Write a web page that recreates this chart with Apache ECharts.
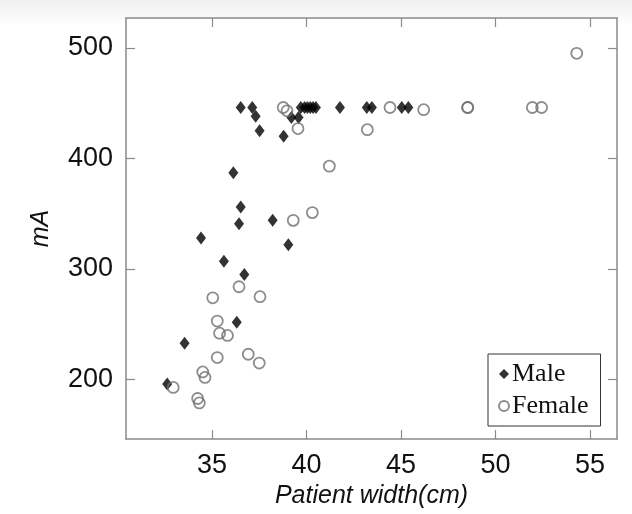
<!DOCTYPE html>
<html>
<head>
<meta charset="utf-8">
<script src="https://cdn.jsdelivr.net/npm/echarts@6/dist/echarts.min.js"></script>
<style>
  html, body { margin: 0; padding: 0; background: #fff; }
  #main { width: 632px; height: 514px; }
</style>
</head>
<body>
<div id="main"></div>
<script>
// values
var maleWidth = [32.63, 33.55, 34.42, 35.63, 36.31, 36.13, 36.52, 36.43, 36.71, 36.52, 37.13, 37.31, 37.52, 38.21, 38.79,
                 39.04, 39.2, 39.58, 39.7, 39.9, 40.05, 40.2, 40.35, 40.5, 41.77, 43.19, 43.46, 45.04, 45.39];
var maleMA = [196, 233, 328, 307, 252, 387, 356, 341, 295, 446, 446, 438, 425, 344, 420,
              322, 437, 437, 446, 446, 446, 446, 446, 446, 446, 446, 446, 446, 446];
var femaleWidth = [32.95, 34.24, 34.33, 34.51, 34.63, 35.04, 35.28, 35.28, 35.4, 35.82, 36.43, 36.92, 37.5, 37.54,
                   38.77, 38.97, 39.3, 39.55, 40.31, 41.21, 43.22, 44.42, 46.2, 48.53, 48.53, 51.95, 52.44, 54.3];
var femaleMA = [193, 183, 179, 207, 202, 274, 220, 253, 242, 240, 284, 223, 215, 275,
                446, 443, 344, 427, 351, 393, 426, 446, 444, 446, 446, 446, 446, 495];
var xTicks = [35, 40, 45, 50, 55];
var yTicks = [200, 300, 400, 500];

function pairs(xs, ys) {
    var out = [];
    for (var i = 0; i < xs.length; i++) {
        out.push([xs[i], ys[i]]);
    }
    return out;
}

var frame = '#8a8a8a';

var chart = echarts.init(document.getElementById('main'));
chart.setOption({
    animation: false,
    backgroundColor: {
        type: 'linear', x: 0, y: 0, x2: 0, y2: 1,
        colorStops: [{ offset: 0, color: '#f0f0f0' }, { offset: 0.05, color: '#ffffff' }, { offset: 1, color: '#ffffff' }]
    },
    grid: { left: 126, right: 15, top: 18, bottom: 71, backgroundColor: '#fff', show: true, borderWidth: 0 },
    legend: {
        left: 488, top: 354,
        orient: 'vertical',
        padding: [7, 12, 7, 10],
        itemGap: 6,
        itemWidth: 10,
        itemHeight: 10,
        borderColor: '#333',
        borderWidth: 1,
        backgroundColor: '#fff',
        textStyle: { fontFamily: 'Liberation Serif', fontSize: 26, color: '#111', padding: [0, 0, 0, -2] },
        data: [
            { name: 'Male', icon: 'diamond' },
            { name: 'Female', icon: 'circle' }
        ]
    },
    xAxis: [{
        type: 'value',
        min: 30.45, max: 56.43,
        name: 'Patient width(cm)',
        nameLocation: 'middle',
        nameGap: 42,
        nameTextStyle: { fontFamily: 'Liberation Sans', fontStyle: 'italic', fontSize: 25, color: '#111' },
        axisLine: { lineStyle: { color: frame, width: 1.5 } },
        axisTick: { inside: true, length: 9, customValues: xTicks, lineStyle: { color: frame, width: 1.2 } },
        axisLabel: { customValues: xTicks, margin: 13, fontFamily: 'Liberation Sans', fontSize: 27, color: '#111' },
        splitLine: { show: false }
    }, {
        type: 'value',
        position: 'top',
        min: 30.45, max: 56.43,
        axisLine: { lineStyle: { color: frame, width: 1.5 } },
        axisTick: { inside: true, length: 9, customValues: xTicks, lineStyle: { color: frame, width: 1.2 } },
        axisLabel: { show: false },
        splitLine: { show: false }
    }],
    yAxis: [{
        type: 'value',
        min: 146.3, max: 526.9,
        name: 'mA',
        nameLocation: 'middle',
        nameGap: 72,
        nameTextStyle: { fontFamily: 'Liberation Sans', fontStyle: 'italic', fontSize: 25, color: '#111' },
        axisLine: { show: true, lineStyle: { color: frame, width: 1.5 } },
        axisTick: { show: true, inside: true, length: 9, customValues: yTicks, lineStyle: { color: frame, width: 1.2 } },
        axisLabel: { customValues: yTicks, margin: 13, fontFamily: 'Liberation Sans', fontSize: 27, color: '#111' },
        splitLine: { show: false }
    }, {
        type: 'value',
        position: 'right',
        min: 146.3, max: 526.9,
        axisLine: { show: true, lineStyle: { color: frame, width: 1.5 } },
        axisTick: { show: true, inside: true, length: 9, customValues: yTicks, lineStyle: { color: frame, width: 1.2 } },
        axisLabel: { show: false },
        splitLine: { show: false }
    }],
    series: [{
        name: 'Male',
        type: 'scatter',
        symbol: 'diamond',
        symbolSize: [10, 13],
        itemStyle: { color: '#000' },
        data: pairs(maleWidth, maleMA)
    }, {
        name: 'Female',
        type: 'scatter',
        symbol: 'circle',
        symbolSize: 11,
        itemStyle: { color: 'rgba(255,255,255,0)', borderColor: '#707070', borderWidth: 1.8 },
        data: pairs(femaleWidth, femaleMA)
    }]
});
</script>
</body>
</html>
